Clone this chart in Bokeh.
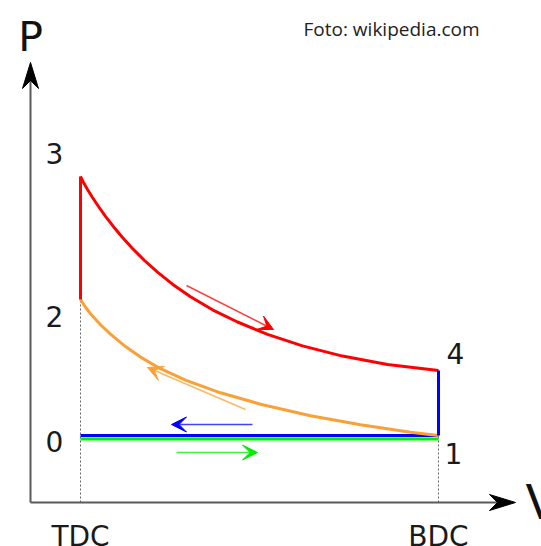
from bokeh.plotting import figure
from bokeh.models import Range1d, Arrow, VeeHead, ColumnDataSource, Label
from bokeh.core.properties import value
from bokeh.embed import file_html
from bokeh.resources import INLINE

# ---- data (arbitrary schematic units: V to the right, P upwards) ----
V_TDC = 50
V_BDC = 408
P_1 = 67     # state 1 (end of intake, BDC)
P_2 = 203    # state 2 (end of compression, TDC)
P_3 = 326    # state 3 (end of combustion, TDC)
P_4 = 132    # state 4 (end of expansion, BDC)
P_INTAKE = 63.5
P_EXHAUST = 67

# power stroke 3 -> 4
exp_V = [50, 53, 57, 62, 68, 75, 83, 92, 102, 114, 127, 142, 160, 182, 207, 237, 272, 312, 357, 408]
exp_P = [326, 320, 313, 305, 296, 286.2, 275.8, 265, 254, 242, 230.3, 218.3, 205.7, 192.7,
         180.5, 168.2, 156.6, 146.4, 138.1, 132]

# compression stroke 1 -> 2
comp_V = [408, 380, 330, 280, 230, 190, 155, 130, 110, 95, 80, 70, 60, 55, 50]
comp_P = [67, 70.3, 77.8, 86.8, 98.3, 109.7, 122.3, 133.8, 145.4, 155.9, 168.4, 177.75, 188.75, 195.25, 203]

state_labels = ["0", "1", "2", "3", "4"]
stroke_labels = ["TDC", "BDC"]
axis_labels = ["P", "V"]
V_AXIS_END = 485
P_AXIS_END = 440

# direction arrows (start V, start P, end V, end P)
arrow_red = dict(x0=[156], y0=[217], x1=[243], y1=[173])
arrow_orange = dict(x0=[215], y0=[93], x1=[117], y1=[135])
arrow_blue = dict(x0=[222], y0=[78], x1=[141], y1=[78])
arrow_green = dict(x0=[146], y0=[50], x1=[227], y1=[50])

RED = "#ff0000"
ORANGE = "#f9a036"
BLUE = "#0000ff"
GREEN = "#00ee00"
FONT = "DejaVu Sans"
HEAD_LEN = 26
HEAD_HALF = 8
HEAD_NOTCH = 8

p = figure(width=541, height=546, output_backend="svg", toolbar_location=None,
           x_range=Range1d(-30, 511), y_range=Range1d(-44, 502),
           min_border=0, x_axis_location=None, y_axis_location=None)
p.grid.visible = False
p.outline_line_color = None
p.background_fill_color = "white"
p.border_fill_color = "white"

# dotted guides at TDC / BDC
p.line([V_TDC, V_TDC], [0, P_2], line_color="#666666", line_width=1, line_dash="2 2")
p.line([V_BDC, V_BDC], [0, P_1], line_color="#666666", line_width=1, line_dash="2 2")

# axes with arrow heads
p.line([0, 0], [0, P_AXIS_END - HEAD_NOTCH], line_color="#5a5a5a", line_width=2)
p.line([0, V_AXIS_END - HEAD_NOTCH], [0, 0], line_color="#5a5a5a", line_width=2)
p.patch([0, HEAD_HALF, 0, -HEAD_HALF],
        [P_AXIS_END, P_AXIS_END - HEAD_LEN, P_AXIS_END - HEAD_LEN + HEAD_NOTCH, P_AXIS_END - HEAD_LEN],
        fill_color="black", line_color="black", line_width=1)
p.patch([V_AXIS_END, V_AXIS_END - HEAD_LEN, V_AXIS_END - HEAD_LEN + HEAD_NOTCH, V_AXIS_END - HEAD_LEN],
        [0, HEAD_HALF, 0, -HEAD_HALF],
        fill_color="black", line_color="black", line_width=1)

# intake (green) and exhaust (blue)
p.line([V_TDC, V_BDC], [P_INTAKE, P_INTAKE], line_color=GREEN, line_width=3)
p.line([V_BDC, V_TDC], [P_EXHAUST, P_EXHAUST], line_color=BLUE, line_width=3)

# compression (orange)
p.line(comp_V, comp_P, line_color=ORANGE, line_width=3, line_join="round")
# combustion + expansion (red)
p.line([V_TDC, V_TDC], [P_2, P_3], line_color=RED, line_width=3)
p.line(exp_V, exp_P, line_color=RED, line_width=3, line_join="round")
# blowdown (blue)
p.line([V_BDC, V_BDC], [P_4, P_1], line_color=BLUE, line_width=3)

# direction arrows
for d, c in [(arrow_red, RED), (arrow_orange, ORANGE), (arrow_blue, BLUE), (arrow_green, GREEN)]:
    src = ColumnDataSource(d)
    p.add_layout(Arrow(source=src, x_start="x0", y_start="y0", x_end="x1", y_end="y1",
                       line_color=c, line_width=1.5, line_alpha=0.75,
                       end=VeeHead(size=15, fill_color=c, line_color=c)))

# state labels
lab_x = [V_TDC, V_BDC, V_TDC, V_TDC, V_BDC]
lab_y = [P_1, P_1, P_2, P_3, P_4]
lab_dx = [-26, 15, -26, -26, 17]
lab_dy = [6, 18, 17, -23, -17]
p.text(x=lab_x, y=lab_y, text=state_labels, x_offset=lab_dx, y_offset=lab_dy,
       text_font=value(FONT), text_font_size="28px", text_color="#1a1a1a",
       text_align="center", text_baseline="alphabetic")

# TDC / BDC labels
p.text(x=[V_TDC, V_BDC], y=[0, 0], text=stroke_labels, y_offset=[34, 34],
       text_font=value(FONT), text_font_size="28px", text_color="#1a1a1a",
       text_align="center", text_baseline="alphabetic")

# axis labels
p.text(x=[0], y=[P_AXIS_END], text=[axis_labels[0]], y_offset=[-26],
       text_font=value(FONT), text_font_size="41px", text_color="#111111",
       text_align="center", text_baseline="alphabetic")
p.text(x=[V_AXIS_END], y=[0], text=[axis_labels[1]], x_offset=[10], y_offset=[-1],
       text_font=value(FONT), text_font_size="48px", text_color="#111111",
       text_align="left", text_baseline="alphabetic")

# credit
p.add_layout(Label(x=303, y=518, x_units="screen", y_units="screen",
                   text="Foto: wikipedia.com", text_font="Open Sans",
                   text_font_size="19px", text_color="#222222",
                   text_baseline="alphabetic"))

open("out.html", "w").write(file_html(p, INLINE))
